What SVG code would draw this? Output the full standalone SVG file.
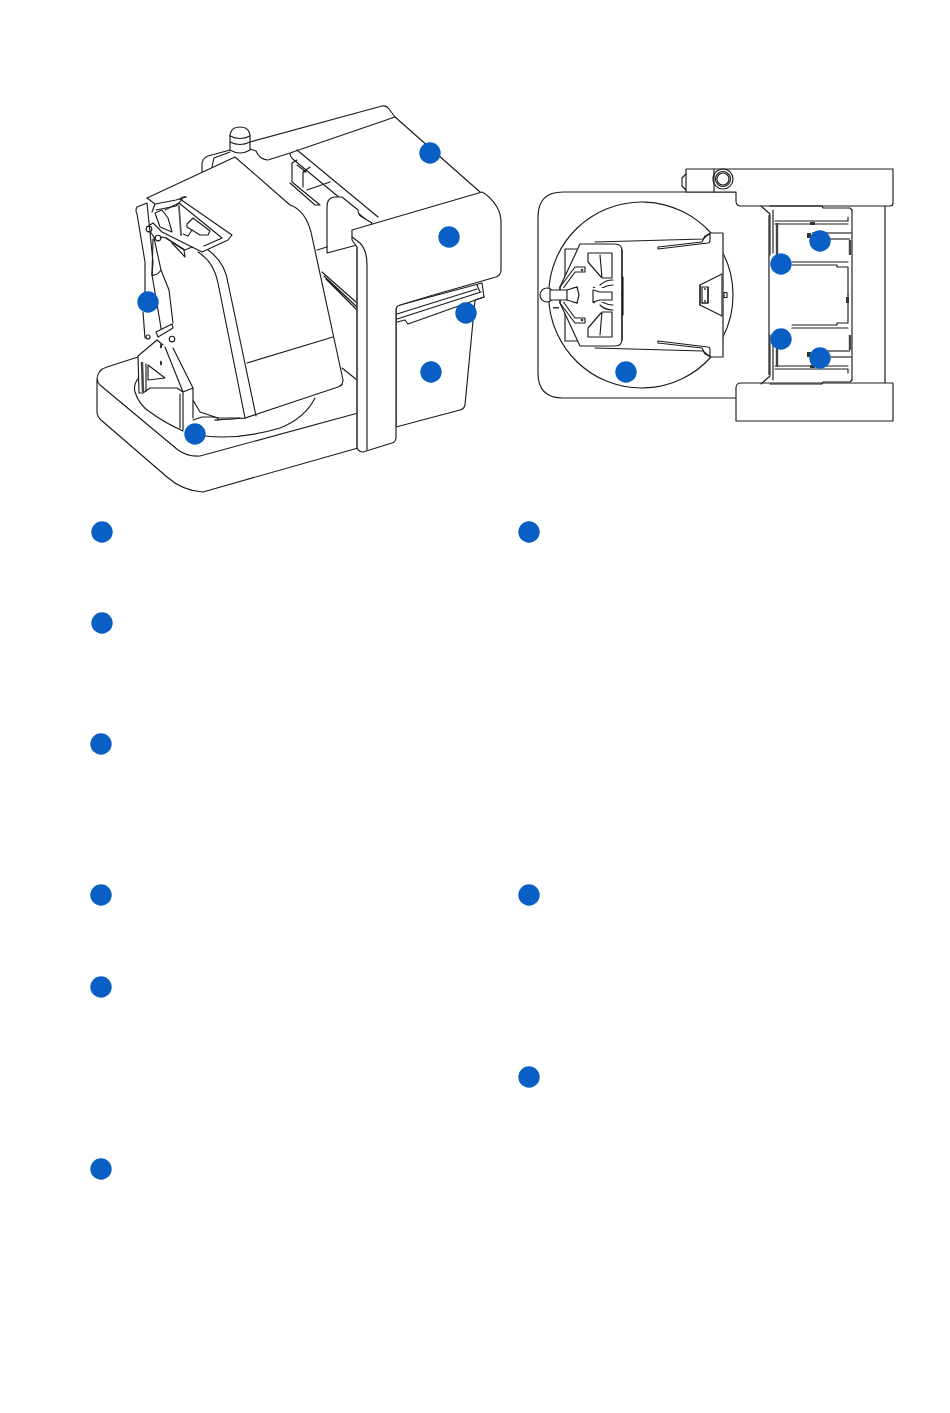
<svg xmlns="http://www.w3.org/2000/svg" width="950" height="1413" viewBox="0 0 950 1413">
<style>
.l{fill:none;stroke:#1c1c1c;stroke-width:1.15;stroke-linejoin:round;stroke-linecap:round}
.w{fill:#fff;stroke:#1c1c1c;stroke-width:1.15;stroke-linejoin:round;stroke-linecap:round}
.f{fill:#fff;stroke:none}
.g{fill:none;stroke:#555;stroke-width:1.6}
.t{fill:none;stroke:#444;stroke-width:2.4}
.d{fill:#333;stroke:none}
.b{fill:#0a5fc5}
</style>
<rect width="950" height="1413" fill="#fff"/>
<g id="side-view">
<path class="w" d="M138 357L107 367Q97 370 97 380V412Q97 416 101 420L167 477Q183 491 203 492L358 448V413L200 456Q188 457 178 450L100 385Q97 382 97 378"/>
<path class="l" d="M139 377Q133 385 135 392Q139 405 150 412Q165 423 183 431M205 436Q240 440 280 428Q305 418 315 398"/>
<path class="l" d="M215 420L245 418L342 385"/>
<!-- back housing -->
<path class="f" d="M202 172V163Q203 158 208 156L230 150V142L382 106Q386 105 389 109L480 192L352 235L360 300L322 280L310 228Q305 210 290 205L235 157L213 165L202 172Z"/>
<path class="l" d="M202 172V163Q203 158 208 156L230 150M212 167L214 158L230 152M250 142L382 106Q386 105 389 109L395 117L480 192"/>
<path class="l" d="M250 149L256 151Q260 160 268 160L290 153L395 117M290 153Q290 157 294 160L370 223M297 150L378 217"/>
<path class="l" d="M292 163V182L320 205L315 205L290 183M297 165L306 172H303V187M303 172L310 167M307 190L330 182M292 163L297 160"/>
<path class="w" d="M327 253V207Q327 198 334 197H342L358 210Q358 215 362 217L372 223L357 245Z"/>
<path class="l" d="M317 250L327 247"/>
<path class="l" d="M322 272L357 303M324 276L357 307M326 279L357 310M342 368L357 380"/>
<!-- knob -->
<path class="w" d="M230 150V137Q230 127 240 127Q250 127 250 137V150Q240 156 230 150Z"/>
<path class="l" d="M230 136Q240 141 250 136M230 142Q240 147 250 142"/>
<!-- body -->
<path class="f" d="M147 198L235 157L290 205Q305 210 311 232L343 380Q343 385 338 387L245 418L215 420L197 405L172 340L165 240Z"/>
<path class="l" d="M147 198L235 157L290 205Q305 210 311 232L343 380Q343 385 338 387L245 418L215 420"/>
<path class="l" d="M198 252Q214 262 218 283L245 418M208 250Q225 262 228 283L256 416M247 363L333 337"/>
<!-- handle -->
<path class="f" d="M147 203L182 197L232 235L228 240L202 252L192 247L158 232L150 212Z"/>
<path class="l" d="M147 198L155 204L152 212M155 204L176 200L186 197M156 210L176 206M176 206L179 203"/>
<path class="l" d="M186 197Q182 196 180 199L232 235L228 240L202 252L192 247M179 203L222 238L204 246M182 199L179 203M179 203L165 210"/>
<path class="l" d="M179 206L181 235" style="stroke:#555;stroke-width:1.8"/>
<path class="l" d="M187 224L193 218L210 231L208 235L200 235L187 227ZM155 213L162 210L168 218L172 232L160 227Z"/>
<path class="l" d="M183 234L188 236L192 230"/>
<path class="w" d="M147 227L153 223L162 232L192 247L185 250L166 238L162 237L156 240Z"/>
<path class="l" d="M166 238L184 250L185 257L172 243"/>
<circle class="w" cx="149" cy="229" r="2.800"/>
<circle class="w" cx="158" cy="238" r="2.800"/>
<!-- strap -->
<path class="l" d="M147 203L137 207Q135 210 137 214L145 262L145 292M147 203L153 262L152 275"/>
<path class="l" d="M153 239L152 275Q157 276 161 270L154 238M161 270L169 290L173 323M152 275L158 310L162 334M143 312L145 338"/>
<path class="w" d="M156 332L172 324L173 328L158 337Z"/>
<circle class="w" cx="148" cy="337" r="2"/>
<circle class="w" cx="172" cy="339" r="2.800"/>
<!-- bracket -->
<path class="f" d="M138 355L157 340L165 347L173 348L193 388V418L183 430L180 428V394L170 388L145 392H139Z"/>
<path class="l" d="M138 356L157 340L163 345M138 356L139 393L143 393L150 388H177L183 392M165 347L183 392M173 348L193 388M183 392L193 388M180 394V428M183 392V430M193 388V418M193 420L202 417H212M193 400L200 412L218 418L240 418"/>
<path class="t" d="M142 362L143 392"/>
<path class="l" d="M146 364V391M148 365V380L165 378L148 365M213 417L218 418V420"/>
<ellipse cx="161" cy="346" rx="1" ry="2.500" fill="#222"/>
<ellipse cx="161" cy="363" rx="1" ry="2.500" fill="#222"/>
<!-- bin -->
<path class="w" d="M396 427L460 410Q464 409 465 405L475 300L484 297L482 283L400 305Q396 306 396 310Z"/>
<path class="l" d="M397 314L477 289M397 319L481 292M397 322L405 320L408 324L484 297M477 285L480 292"/>
<!-- front panel -->
<path class="w" d="M352 230L482 192Q490 196 497 207Q501 214 501 222V270Q501 275 496 277L430 296L400 305Q396 306 396 310V437Q396 442 392 443L363 452Q359 452 357 448V247L352 240Z"/>
<path class="l" d="M352 237L360 243Q367 250 367 265V450"/>
<path class="g" d="M357 247V448"/>
</g>
<g id="top-view">
<path class="w" d="M736 192H563Q538 192 538 217V373Q538 398 563 398H736"/>
<path class="g" d="M885 206V383"/>
<path class="w" d="M711 233A93 93 0 1 0 711 357"/>
<path class="l" d="M723 253A93 93 0 0 1 723 337"/>
<g id="plate-half">
<path class="f" d="M595 242L703 239L710 233H723V295H595Z"/>
<path class="l" d="M595 242L703 239L710 233H723"/>
<path class="l" d="M658 247L702 242L705 236L710 234V240Q710 243 708 243L658 249Z"/>
<path class="l" d="M722 274L700 285V295M702 287H708V295"/>
<circle class="d" cx="705" cy="289" r="1"/>
<path class="l" d="M565 249V295M565 249H577"/>
<path class="w" d="M580 244H615Q622 244 622 251V295H560V287Z"/>
<path class="l" d="M588 253H612V278H602L600 255M588 253V262L601 277"/>
<path class="l" d="M560 287L575 267H585V272H575L562 290"/>
<path class="l" d="M600 285Q605 280 613 280M602 288Q608 285 613 285"/>
<path class="l" d="M567 290L577 287L579 295"/>
<circle class="d" cx="594" cy="288" r="1.300"/><circle class="d" cx="582" cy="270" r="1.300"/>
</g>
<g id="plate-mirror" transform="matrix(1 0 0 -1 0 590)">
<path class="f" d="M595 242L703 239L710 233H723V295H595Z"/>
<path class="l" d="M595 242L703 239L710 233H723"/>
<path class="l" d="M658 247L702 242L705 236L710 234V240Q710 243 708 243L658 249Z"/>
<path class="l" d="M722 274L700 285V295M702 287H708V295"/>
<circle class="d" cx="705" cy="289" r="1"/>
<path class="l" d="M565 249V295M565 249H577"/>
<path class="w" d="M580 244H615Q622 244 622 251V295H560V287Z"/>
<path class="l" d="M588 253H612V278H602L600 255M588 253V262L601 277"/>
<path class="l" d="M560 287L575 267H585V272H575L562 290"/>
<path class="l" d="M600 285Q605 280 613 280M602 288Q608 285 613 285"/>
<path class="l" d="M567 290L577 287L579 295"/>
<circle class="d" cx="594" cy="288" r="1.300"/><circle class="d" cx="582" cy="270" r="1.300"/>
</g>
<path class="f" d="M561 288H621V302H561Z"/>
<path class="l" d="M622 250V340M560 287V303M623 277V315M722 274V316"/>
<path class="l" d="M593 290L600 292H612V300H600L593 302Z"/>
<path class="l" d="M567 290L577 287L579 295L577 303L567 300"/>
<circle class="w" cx="547" cy="295" r="7"/>
<rect class="w" x="550" y="290" width="17" height="10"/>
<rect class="d" x="553" y="307" width="6" height="1.500"/>
<path class="l" d="M702 287V303H708V287M700 285V305"/>
<path class="g" d="M723 233V357"/>
<rect class="w" x="724" y="292.500" width="3" height="5"/>
<!-- right blocks -->
<path class="w" d="M686 169H893V203Q893 206 890 206H741Q736 206 736 201V192H686Z"/>
<path class="l" d="M714 169V192"/>
<path class="l" d="M686 174L682 178V186L686 190"/>
<circle class="l" cx="723" cy="179" r="10"/><circle class="l" cx="723" cy="179" r="7.500"/><circle class="l" cx="723" cy="179" r="6"/>
<path class="w" d="M741 383H893V421H736V388Q736 383 741 383Z"/>
<!-- drawer -->
<path class="g" d="M769 215V375"/>
<path class="l" d="M852 210V380"/>
<g id="drawer-half">
<path class="l" d="M761 206L770 214V255M770 206H822L823 208H850L852 210"/>
<path class="l" d="M773 210V253M775 221H848V217M775 224H848"/>
<path class="t" d="M777 223V255"/>
<path class="l" d="M792 262H800L848 262M792 265H837V267H848V295"/>
<path class="g" d="M812 233H852M825 239H850"/>
<path class="t" d="M850 240V255"/>
<rect class="d" x="807" y="233" width="4" height="5"/><rect class="d" x="810" y="222" width="5" height="3"/>
</g>
<g id="drawer-mirror" transform="matrix(1 0 0 -1 0 590)">
<path class="l" d="M761 206L770 214V255M770 206H822L823 208H850L852 210"/>
<path class="l" d="M773 210V253M775 221H848V217M775 224H848"/>
<path class="t" d="M777 223V255"/>
<path class="l" d="M792 262H800L848 262M792 265H837V267H848V295"/>
<path class="g" d="M812 233H852M825 239H850"/>
<path class="t" d="M850 240V255"/>
<rect class="d" x="807" y="233" width="4" height="5"/><rect class="d" x="810" y="222" width="5" height="3"/>
</g>
<rect class="d" x="846" y="297" width="3" height="6"/>
</g>
<g id="markers">
<circle id="m1" class="b" cx="430" cy="153" r="10.700"/>
<circle id="m2" class="b" cx="449" cy="237" r="10.700"/>
<circle id="m3" class="b" cx="466" cy="313" r="10.700"/>
<circle id="m4" class="b" cx="431" cy="372" r="10.700"/>
<circle id="m5" class="b" cx="148" cy="302" r="10.700"/>
<circle id="m6" class="b" cx="195" cy="434" r="10.700"/>
<circle id="m7" class="b" cx="820" cy="241" r="10.700"/>
<circle id="m8" class="b" cx="781" cy="264" r="10.700"/>
<circle id="m9" class="b" cx="781" cy="339" r="10.700"/>
<circle id="m10" class="b" cx="820" cy="358" r="10.700"/>
<circle id="m11" class="b" cx="626" cy="372" r="10.700"/>
<circle id="k1" class="b" cx="102" cy="532" r="10.700"/>
<circle id="k2" class="b" cx="102" cy="623" r="10.700"/>
<circle id="k3" class="b" cx="101" cy="744" r="10.700"/>
<circle id="k4" class="b" cx="101" cy="895" r="10.700"/>
<circle id="k5" class="b" cx="101" cy="987" r="10.700"/>
<circle id="k6" class="b" cx="101" cy="1169" r="10.700"/>
<circle id="k7" class="b" cx="529" cy="532" r="10.700"/>
<circle id="k8" class="b" cx="529" cy="895" r="10.700"/>
<circle id="k9" class="b" cx="529" cy="1077" r="10.700"/>
</g>
</svg>
